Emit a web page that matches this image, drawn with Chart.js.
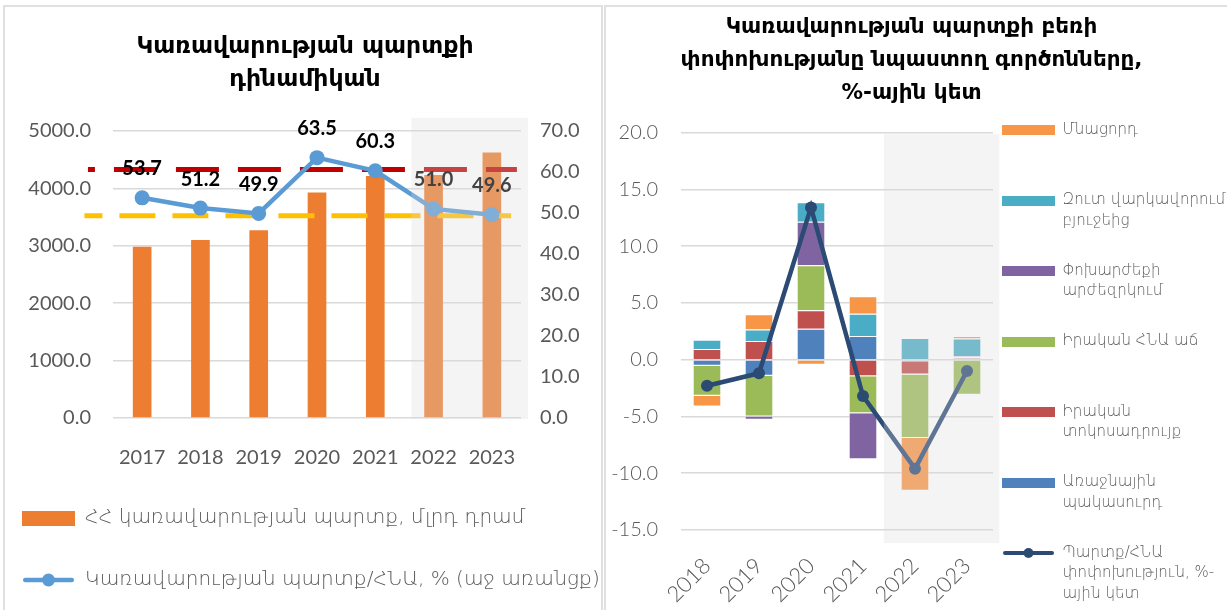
<!DOCTYPE html>
<html>
<head>
<meta charset="utf-8">
<script src="https://cdn.jsdelivr.net/npm/chart.js@4.4.1/dist/chart.umd.min.js"></script>
<style>
  html, body { margin: 0; padding: 0; background: #fff; width: 1227px; height: 610px; overflow: hidden; position: relative; }
  .panel { position: absolute; border: 2px solid #e0e0e0; box-sizing: border-box; }
  #p1 { left: 3px; top: 5px; width: 600px; height: 640px; }
  #p2 { left: 604px; top: 5px; width: 640px; height: 640px; }
  #c1 { position: absolute; left: -20px; top: 0px; }
  #c2 { position: absolute; left: 596px; top: 0px; }
</style>
</head>
<body>
<div class="panel" id="p1"></div>
<div class="panel" id="p2"></div>
<canvas id="c1" width="650" height="610" style="width:650px;height:610px"></canvas>
<canvas id="c2" width="631" height="640" style="width:631px;height:640px"></canvas>
<script>
// ---------- LEFT CHART DATA ----------
const debtYears = ['2017', '2018', '2019', '2020', '2021', '2022', '2023'];
const debtAmdBn = [2984, 3100, 3273, 3930, 4215, 4232, 4627];
const debtToGdp = [53.7, 51.2, 49.9, 63.5, 60.3, 51.0, 49.6];
const debtRefHigh = 60.6;
const debtRefLow = 49.3;
const leftTitle = ['Կառավարության պարտքի', 'դինամիկան'];
const leftSeriesNames = ['ՀՀ կառավարության պարտք, մլրդ դրամ', 'Կառավարության պարտք/ՀՆԱ, % (աջ առանցք)'];

// ---------- RIGHT CHART DATA ----------
const factorYears = ['2018', '2019', '2020', '2021', '2022', '2023'];
const primaryDeficit = [-0.53, -1.41, 2.71, 2.09, -0.15, 0.10];
const realInterest = [0.94, 1.65, 1.64, -1.47, -1.15, 0.10];
const realGdpGrowth = [-2.65, -3.59, 3.97, -3.24, -5.59, -3.09];
const exchangeRate = [0.00, -0.29, 3.83, -4.06, 0.00, 0.09];
const netLending = [0.82, 1.00, 1.70, 1.94, 1.91, 1.56];
const residual = [-0.94, 1.35, -0.45, 1.56, -4.65, 0.24];
const debtChange = [-2.3, -1.2, 13.4, -3.2, -9.6, -1.0];
const rightTitle = ['Կառավարության պարտքի բեռի', 'փոփոխությանը նպաստող գործոնները,', '%-ային կետ'];
const factorNames = ['Առաջնային պակասուրդ', 'Իրական տոկոսադրույք', 'Իրական ՀՆԱ աճ', 'Փոխարժեքի արժեզրկում', 'Զուտ վարկավորում բյուջեից', 'Մնացորդ', 'Պարտք/ՀՆԱ փոփոխություն, %-ային կետ'];
const factorLegendLines = [
  ['Առաջնային', 'պակասուրդ', ''],
  ['Իրական', 'տոկոսադրույք', ''],
  ['Իրական ՀՆԱ աճ', '', ''],
  ['Փոխարժեքի', 'արժեզրկում', ''],
  ['Զուտ վարկավորում', 'բյուջեից', ''],
  ['Մնացորդ', '', ''],
  ['Պարտք/ՀՆԱ', 'փոփոխություն, %-', 'ային կետ']
];
const factorColors = ['#4F81BD', '#C0504D', '#9BBB59', '#8064A2', '#4BACC6', '#F79646'];
const factorLineColor = '#2B4A74';
const legendOrder = [5, 4, 3, 2, 1, 0, 6];
// shaded (forecast) regions, in scale units
const leftShade = { from: 4.62, to: 6.62, top: 5230, bottom: -18 };
const rightShade = { from: 3.4, to: 5.62, top: 19.85, bottom: -16.15 };

const AXIS_FONT = "Lato, 'DejaVu Sans', sans-serif";
const ARM_FONT = "'DejaVu Sans', sans-serif";
const GREY = '#595959';
const GRID = '#d9d9d9';

function boxImg(color, w, h) {
  const c = document.createElement('canvas'); c.width = w; c.height = h;
  const g = c.getContext('2d'); g.fillStyle = color; g.fillRect(0, 0, w, h); return c;
}
function lineImg(color, w, h, lw, r) {
  const c = document.createElement('canvas'); c.width = w; c.height = h;
  const g = c.getContext('2d');
  g.strokeStyle = color; g.lineWidth = lw; g.lineCap = 'round';
  g.beginPath(); g.moveTo(lw / 2 + 1, h / 2); g.lineTo(w - lw / 2 - 1, h / 2); g.stroke();
  g.fillStyle = color; g.beginPath(); g.arc(w / 2, h / 2, r, 0, Math.PI * 2); g.fill();
  return c;
}

function drawShade(chart, shade) {
  const ctx = chart.ctx, xs = chart.scales.x, ys = chart.scales.y;
  const x0 = xs.getPixelForValue(shade.from), x1 = xs.getPixelForValue(shade.to);
  const y0 = ys.getPixelForValue(shade.top), y1 = ys.getPixelForValue(shade.bottom);
  ctx.save();
  ctx.fillStyle = 'rgba(217,217,217,0.3)';
  ctx.fillRect(x0, y0, x1 - x0, y1 - y0);
  ctx.restore();
}

// ---------- LEFT CHART ----------
const leftPlugin = {
  id: 'leftExtras',
  afterDatasetDraw(chart, args) {
    if (args.meta.type !== 'bar') return;
    const ctx = chart.ctx, xs = chart.scales.x, ys = chart.scales.y1;
    const refs = [
      { v: debtRefHigh, color: '#C00000', from: -0.93, to: 6.43, dash: [43, 19], off: 36 },
      { v: debtRefLow, color: '#FFC000', from: -0.99, to: 6.33, dash: [36, 17], off: 18 }
    ];
    ctx.save();
    refs.forEach(r => {
      const y = ys.getPixelForValue(r.v);
      ctx.strokeStyle = r.color; ctx.lineWidth = 5; ctx.setLineDash(r.dash); ctx.lineDashOffset = r.off;
      ctx.beginPath(); ctx.moveTo(xs.getPixelForValue(r.from), y); ctx.lineTo(xs.getPixelForValue(r.to), y); ctx.stroke();
    });
    ctx.restore();
  },
  afterDatasetsDraw(chart) {
    const ctx = chart.ctx;
    const meta = chart.getDatasetMeta(1);
    ctx.save();
    ctx.font = "bold 20px " + AXIS_FONT;
    ctx.fillStyle = '#000';
    ctx.textAlign = 'center'; ctx.textBaseline = 'middle';
    meta.data.forEach((pt, i) => { ctx.fillText(debtToGdp[i].toFixed(1), pt.x, pt.y - 29); });
    ctx.restore();
    drawShade(chart, leftShade);
  }
};

new Chart(document.getElementById('c1'), {
  data: {
    labels: debtYears,
    datasets: [
      { type: 'bar', label: leftSeriesNames[0], data: debtAmdBn, yAxisID: 'y', backgroundColor: '#ED7D31',
        barPercentage: 0.32, categoryPercentage: 1, order: 1 },
      { type: 'line', label: leftSeriesNames[1], data: debtToGdp, yAxisID: 'y1', borderColor: '#5B9BD5',
        backgroundColor: '#5B9BD5', borderWidth: 4.5, pointRadius: 7.5, pointBackgroundColor: '#5B9BD5',
        pointBorderWidth: 0, tension: 0, order: 0 }
    ]
  },
  options: {
    responsive: false, animation: false, devicePixelRatio: 1,
    layout: { padding: { left: 0, right: 0, top: 0, bottom: 10 } },
    plugins: {
      title: { display: true, text: leftTitle, color: '#000',
        font: { family: ARM_FONT, size: 23.5, weight: 'bold', lineHeight: '33px' }, padding: { top: 30, bottom: 35 } },
      legend: { position: 'bottom', align: 'start',
        labels: { usePointStyle: true, pointStyleWidth: 53, padding: 42, color: GREY,
          font: { family: ARM_FONT, size: 20, weight: 300 },
          generateLabels: () => [
            { text: leftSeriesNames[0], pointStyle: boxImg('#ED7D31', 53, 15), datasetIndex: 0, fontColor: GREY, hidden: false, lineWidth: 0 },
            { text: leftSeriesNames[1], pointStyle: lineImg('#5B9BD5', 53, 16, 4.5, 6.5), datasetIndex: 1, fontColor: GREY, hidden: false, lineWidth: 0 }
          ] } },
      tooltip: { enabled: false }
    },
    scales: {
      x: { type: 'category', offset: true, grid: { display: false }, border: { display: false },
        ticks: { color: GREY, padding: 20, font: { family: AXIS_FONT, size: 20 } },
        afterFit: a => { a.height = 48; } },
      y: { type: 'linear', position: 'left', min: 0, max: 5000, border: { display: false },
        grid: { color: GRID, lineWidth: 1.5, drawTicks: false },
        ticks: { stepSize: 1000, padding: 22, color: GREY, font: { family: AXIS_FONT, size: 20 }, callback: v => v.toFixed(1) },
        afterFit: a => { a.width = 133; } },
      y1: { type: 'linear', position: 'right', min: 0, max: 70, border: { display: false },
        grid: { display: false, drawTicks: false },
        ticks: { stepSize: 10, padding: 19, color: GREY, font: { family: AXIS_FONT, size: 20 }, callback: v => v.toFixed(1) },
        afterFit: a => { a.width = 109; } }
    }
  },
  plugins: [leftPlugin]
});

// ---------- RIGHT CHART ----------
const factorSeries = [primaryDeficit, realInterest, realGdpGrowth, exchangeRate, netLending, residual];
const rightDatasets = factorSeries.map((arr, i) => ({
  type: 'bar', label: factorNames[i], data: arr, backgroundColor: factorColors[i],
  borderColor: 'rgba(255,255,255,0.7)', borderWidth: 1,
  barPercentage: 0.55, categoryPercentage: 1, stack: 'factors', order: 1
}));
rightDatasets.push({ type: 'line', label: factorNames[6], data: debtChange, borderColor: factorLineColor,
  backgroundColor: factorLineColor, borderWidth: 4.5, pointRadius: 6, pointBackgroundColor: factorLineColor,
  pointBorderWidth: 0, tension: 0, stack: 'line', order: 0 });

const rightPlugin = {
  id: 'rightExtras',
  afterDatasetsDraw(chart) { drawShade(chart, rightShade); }
};

new Chart(document.getElementById('c2'), {
  data: { labels: factorYears, datasets: rightDatasets },
  options: {
    responsive: false, animation: false, devicePixelRatio: 1,
    layout: { padding: 0 },
    plugins: {
      title: { display: true, text: rightTitle, color: '#000',
        font: { family: ARM_FONT, size: 21.5, weight: 'bold', lineHeight: '33px' }, padding: { top: 10.5, bottom: 6.5 } },
      legend: { position: 'right', align: 'start', maxWidth: 234,
        title: { display: true, text: '', font: { size: 1, lineHeight: 1 }, padding: { top: 112.5, bottom: 0 } },
        labels: { usePointStyle: true, pointStyleWidth: 53, padding: 9, color: GREY,
          font: { family: ARM_FONT, size: 15, weight: 300, lineHeight: '20.5px' },
          generateLabels: () => legendOrder.map(i => ({
            text: factorLegendLines[i],
            pointStyle: i < 6 ? boxImg(factorColors[i], 53, 10) : lineImg(factorLineColor, 53, 14, 4, 5),
            datasetIndex: i, fontColor: GREY, hidden: false, lineWidth: 0
          })) } },
      tooltip: { enabled: false }
    },
    scales: {
      x: { type: 'category', offset: true, stacked: true, grid: { display: false }, border: { display: false },
        ticks: { color: GREY, padding: 15, minRotation: 45, maxRotation: 45, font: { family: AXIS_FONT, size: 22, weight: 300 } },
        afterFit: a => { a.height = 110; } },
      y: { type: 'linear', stacked: true, min: -15, max: 21.45, border: { display: false },
        grid: { color: GRID, lineWidth: 1.5, drawTicks: false },
        ticks: { stepSize: 5, includeBounds: false, padding: 23, color: GREY, font: { family: AXIS_FONT, size: 20, weight: 300 },
          callback: v => v.toFixed(1) },
        afterFit: a => { a.width = 85; } }
    }
  },
  plugins: [rightPlugin]
});
</script>
</body>
</html>
